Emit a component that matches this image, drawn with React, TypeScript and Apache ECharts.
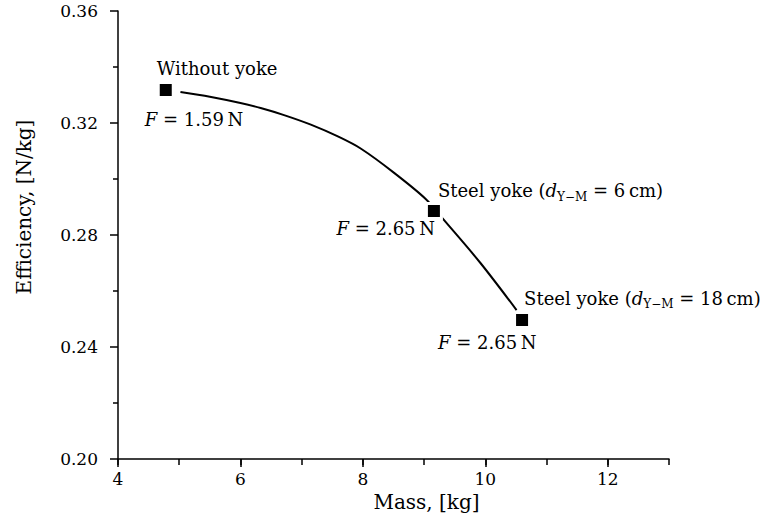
import React, { useEffect, useRef } from 'react';
import * as echarts from 'echarts';

// ---- data ----
const xTickValues = [4, 6, 8, 10, 12];
const yTickValues = [0.2, 0.24, 0.28, 0.32, 0.36];
const pointNames = ['Without yoke', 'Steel yoke', 'Steel yoke'];
const pointDistanceCm: (number | null)[] = [null, 6, 18];
const pointMass = [4.78, 9.16, 10.6];
const pointEfficiency = [0.3318, 0.2886, 0.2496];
const pointForceN = ['1.59', '2.65', '2.65'];
const curveMass = [5.02, 5.5, 6.0, 6.33, 6.7, 7.15, 7.6, 7.97, 8.51, 9.03, 9.33, 9.92, 10.51];
const curveEfficiency = [0.3311, 0.3294, 0.32715, 0.32533, 0.3229, 0.3194, 0.3151, 0.3108, 0.3022, 0.2928, 0.2852, 0.27, 0.2532];

// ---- layout / style (not data) ----
const FONT = 'DejaVu Serif';
const nameOffsets: [number, number][] = [[-9, -21], [4, -20], [2, -22]];
const forceOffsets: [number, number][] = [[-21, 30], [1, 18], [-84, 22]];
const forceAlign = ['left', 'right', 'left'];

const rich = {
  it: { fontFamily: FONT, fontStyle: 'italic', fontSize: 18, lineHeight: 24, color: '#000' },
  sub: { fontFamily: FONT, fontSize: 12, lineHeight: 16, verticalAlign: 'bottom', color: '#000' },
};

function nameText(i: number): string {
  const d = pointDistanceCm[i];
  if (d == null) return pointNames[i];
  return `${pointNames[i]} ({it|d}{sub|Y\u2212M} = ${d}\u2009cm)`;
}

export default function App() {
  const ref = useRef<HTMLDivElement>(null);
  useEffect(() => {
    if (!ref.current) return;
    const chart = echarts.init(ref.current, null, { renderer: 'svg' });
    const axisLineStyle = { color: '#000', width: 1.5 };
    const option: any = {
      animation: false,
      backgroundColor: '#fff',
      grid: { left: 118, right: 107, top: 11, bottom: 62 },
      xAxis: [
        {
          type: 'value', min: 4, max: 13, interval: 2, position: 'bottom',
          name: 'Mass, [kg]', nameLocation: 'middle', nameGap: 30,
          nameTextStyle: { fontFamily: FONT, fontSize: 20, color: '#000', padding: [0, 0, 0, 66] },
          axisLine: { show: true, onZero: false, lineStyle: axisLineStyle },
          axisTick: { show: true, length: 8, lineStyle: axisLineStyle },
          axisLabel: {
            showMaxLabel: false, margin: 11, fontFamily: FONT, fontSize: 17, color: '#000',
            formatter: (v: number) => (xTickValues.includes(v) ? String(v) : ''),
          },
          splitLine: { show: false },
        },
        {
          type: 'value', min: 4, max: 13, interval: 1, position: 'bottom',
          axisLine: { show: false, onZero: false },
          axisTick: { show: true, length: 6, lineStyle: axisLineStyle },
          axisLabel: { show: false },
          splitLine: { show: false },
        },
      ],
      yAxis: {
        type: 'value', min: 0.2, max: 0.36, interval: 0.04,
        name: 'Efficiency, [N/kg]', nameLocation: 'middle', nameGap: 84, nameRotate: 90,
        nameTextStyle: { fontFamily: FONT, fontSize: 20, color: '#000', padding: [0, 0, 0, 56] },
        axisLine: { show: true, lineStyle: axisLineStyle },
        axisTick: { show: true, length: 8, lineStyle: axisLineStyle },
        minorTick: { show: true, splitNumber: 2, length: 5, lineStyle: axisLineStyle },
        axisLabel: {
          margin: 20, fontFamily: FONT, fontSize: 17, color: '#000',
          formatter: (v: number) => {
            const t = yTickValues.find((y) => Math.abs(y - v) < 1e-9);
            return t != null ? t.toFixed(2) : '';
          },
        },
        splitLine: { show: false },
      },
      series: [
        {
          type: 'line', silent: true, xAxisIndex: 0,
          data: curveMass.map((m, i) => [m, curveEfficiency[i]]),
          smooth: 0.3, symbol: 'none',
          lineStyle: { color: '#000', width: 2 },
          z: 2,
        },
        {
          type: 'scatter', silent: true, xAxisIndex: 0,
          symbol: 'rect', symbolSize: 15,
          itemStyle: { color: '#000', borderColor: '#fff', borderWidth: 3, opacity: 1 },
          data: pointMass.map((m, i) => ({
            value: [m, pointEfficiency[i]],
            label: {
              show: true, position: 'inside', align: 'left', verticalAlign: 'middle',
              offset: nameOffsets[i], opacity: 1,
              formatter: nameText(i),
              fontFamily: FONT, fontSize: 18, lineHeight: 24, color: '#000', rich,
            },
          })),
          z: 3,
        },
        {
          type: 'scatter', silent: true, xAxisIndex: 0,
          symbol: 'rect', symbolSize: 1,
          itemStyle: { color: 'rgba(0,0,0,0)', opacity: 1 },
          data: pointMass.map((m, i) => ({
            value: [m, pointEfficiency[i]],
            label: {
              show: true, position: 'inside', align: forceAlign[i], verticalAlign: 'middle',
              offset: forceOffsets[i], opacity: 1,
              formatter: `{it|F} = ${pointForceN[i]}\u2009N`,
              fontFamily: FONT, fontSize: 18, lineHeight: 24, color: '#000', rich,
            },
          })),
          z: 4,
        },
      ],
    };
    chart.setOption(option);
    return () => chart.dispose();
  }, []);
  return <div ref={ref} style={{ width: 776, height: 521, position: 'absolute', left: 0, top: 0 }} />;
}
